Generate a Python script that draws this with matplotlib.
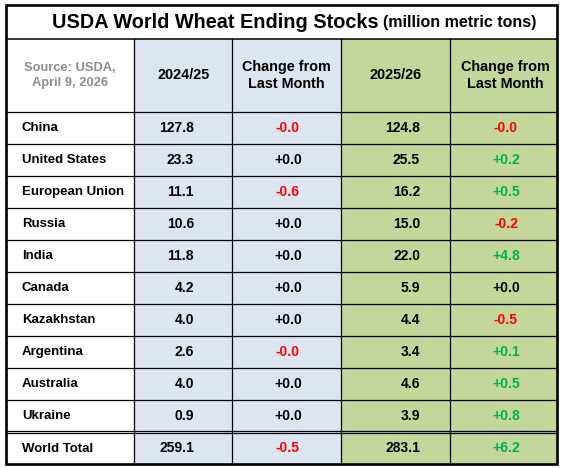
import matplotlib
matplotlib.use('Agg')
import matplotlib.pyplot as plt
from matplotlib.patches import Rectangle

# table values
countries = ['China', 'United States', 'European Union', 'Russia', 'India',
             'Canada', 'Kazakhstan', 'Argentina', 'Australia', 'Ukraine']
stocks_2425 = [127.8, 23.3, 11.1, 10.6, 11.8, 4.2, 4.0, 2.6, 4.0, 0.9]
chg_2425 = [-0.0, 0.0, -0.6, 0.0, 0.0, 0.0, 0.0, -0.0, 0.0, 0.0]
stocks_2526 = [124.8, 25.5, 16.2, 15.0, 22.0, 5.9, 4.4, 3.4, 4.6, 3.9]
chg_2526 = [-0.0, 0.2, 0.5, -0.2, 4.8, 0.0, -0.5, 0.1, 0.5, 0.8]
total_label = 'World Total'
total_2425, total_chg_2425 = 259.1, -0.5
total_2526, total_chg_2526 = 283.1, 6.2

BLUE = '#dce6f1'
GREEN = '#c4d79b'
RED = '#ff0000'
GRN_TXT = '#00b050'

plt.rcParams['font.family'] = ['Liberation Sans', 'DejaVu Sans']

fig = plt.figure(figsize=(5.63, 4.68), dpi=100)
ax = fig.add_axes([0, 0, 1, 1])
ax.set_xlim(0, 563)
ax.set_ylim(468, 0)
ax.axis('off')

# grid geometry (pixels)
L, R, T, B = 5.5, 556.5, 5, 464
cols = [L, 134, 232, 341, 450, R]
title_b = 38.5
head_b = 112
row_h = 32
rows = [head_b + i * row_h for i in range(len(countries) + 1)]  # ends at 432

ax.add_patch(Rectangle((cols[1], title_b), cols[3] - cols[1], B - title_b, color=BLUE, lw=0))
ax.add_patch(Rectangle((cols[3], title_b), cols[5] - cols[3], B - title_b, color=GREEN, lw=0))

thin = 0.9
for x in cols[1:-1]:
    ax.plot([x, x], [title_b, B], color='black', lw=thin)
ax.plot([L, R], [title_b, title_b], color='black', lw=1.1)
for y in rows[:-1]:
    ax.plot([L, R], [y, y], color='black', lw=thin)
ax.plot([L, R], [rows[-1] - 1, rows[-1] - 1], color='black', lw=thin)
ax.plot([L, R], [rows[-1] + 1.2, rows[-1] + 1.2], color='black', lw=thin)
ax.add_patch(Rectangle((L, T), R - L, B - T, fill=False, ec='black', lw=1.9))

# title
ax.text(52, 22, 'USDA World Wheat Ending Stocks', fontsize=14.3, fontweight='bold',
        ha='left', va='center')
ax.text(383, 23, '(million metric tons)', fontsize=11.5, fontweight='bold',
        ha='left', va='center')

# header
hy = (title_b + head_b) / 2
ax.text(70, hy, 'Source: USDA,\nApril 9, 2026', fontsize=9.3, fontweight='bold',
        color='#8c8c8c', ha='center', va='center', linespacing=1.3)
heads = ['2024/25', 'Change from\nLast Month', '2025/26', 'Change from\nLast Month']
hx = [184, 286, 396, 505]
for x, h in zip(hx, heads):
    ax.text(x, hy, h, fontsize=10.4, fontweight='bold', ha='center', va='center',
            linespacing=1.25)


def chg_color(v, s):
    if s.startswith('-'):
        return RED
    if v > 0:
        return GRN_TXT
    return 'black'


def draw_row(y, name, a, ca, b, cb):
    ax.text(22, y, name, fontsize=9.5, fontweight='bold', ha='left', va='center')
    ax.text(194, y, f'{a:.1f}', fontsize=10, fontweight='bold', ha='right', va='center')
    s = f'{ca:+.1f}'
    ax.text(288, y, s, fontsize=10, fontweight='bold', ha='center', va='center',
            color=chg_color(ca, s))
    ax.text(420, y, f'{b:.1f}', fontsize=10, fontweight='bold', ha='right', va='center')
    s = f'{cb:+.1f}'
    ax.text(506, y, s, fontsize=10, fontweight='bold', ha='center', va='center',
            color=chg_color(cb, s))


for i, c in enumerate(countries):
    yc = rows[i] + row_h / 2
    draw_row(yc, c, stocks_2425[i], chg_2425[i], stocks_2526[i], chg_2526[i])

draw_row((rows[-1] + B) / 2 + 0.5, total_label, total_2425, total_chg_2425,
         total_2526, total_chg_2526)

fig.savefig('out.png', dpi=100)
